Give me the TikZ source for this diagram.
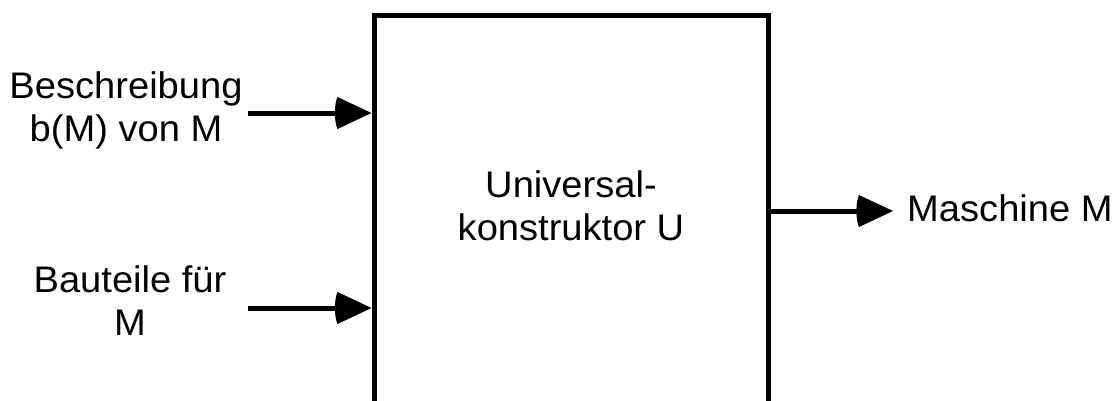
\documentclass[tikz,border=0pt]{standalone}
\usepackage{fontspec}
\setmainfont{Liberation Sans}[FakeStretch=1.03]
\usetikzlibrary{arrows.meta}

% solid arrow head with straight flanks and a bulging back
\pgfdeclarearrow{
  name = Bulb,
  setup code = {
    \pgfarrowssettipend{0pt}
    \pgfarrowssetlineend{-30pt}
    \pgfarrowssetvisualbackend{-37pt}
    \pgfarrowssetbackend{-37pt}
    \pgfarrowshullpoint{0pt}{0pt}
    \pgfarrowsupperhullpoint{-34pt}{16pt}
  },
  drawing code = {
    \pgfpathmoveto{\pgfpoint{0pt}{0pt}}
    \pgfpathlineto{\pgfpoint{-34pt}{16pt}}
    \pgfpathcurveto{\pgfpoint{-37.5pt}{8pt}}{\pgfpoint{-37.5pt}{-8pt}}{\pgfpoint{-34pt}{-16pt}}
    \pgfpathclose
    \pgfusepathqfill
  },
  defaults = {}
}

\tikzset{
  lbl/.style={font=\fontsize{37pt}{43pt}\selectfont, align=center, inner sep=0pt},
  block/.style={draw, line width=5pt, inner sep=0pt},
  flow/.style={line width=5pt, -Bulb}
}

\begin{document}
\begin{tikzpicture}[x=1pt, y=-1pt]
  \useasboundingbox (0,0) rectangle (1120,400);
  \clip (0,0) rectangle (1120,400);

  % the constructor block, running off the lower edge
  \node[block, minimum width=394pt, minimum height=460pt] (box) at (571,245) {};
  \node[lbl] (name) at (571,205.3) {Universal-\\konstruktor U};

  % inputs
  \node[lbl] (desc) at (126,110.2) {Beschreibung\\b(M) von M};
  \node[lbl] (parts) at (130,300.3) {Bauteile für\\M};
  \coordinate (descin) at (248,113);
  \coordinate (partsin) at (248,308);

  % output
  \node[lbl, anchor=west] (out) at (907,207.8) {Maschine M};
  \coordinate (outtip) at (893,211);

  \draw[flow] (descin) -- (box.west |- descin);
  \draw[flow] (partsin) -- (box.west |- partsin);
  \draw[flow] (box.east |- outtip) -- (outtip);
\end{tikzpicture}
\end{document}
